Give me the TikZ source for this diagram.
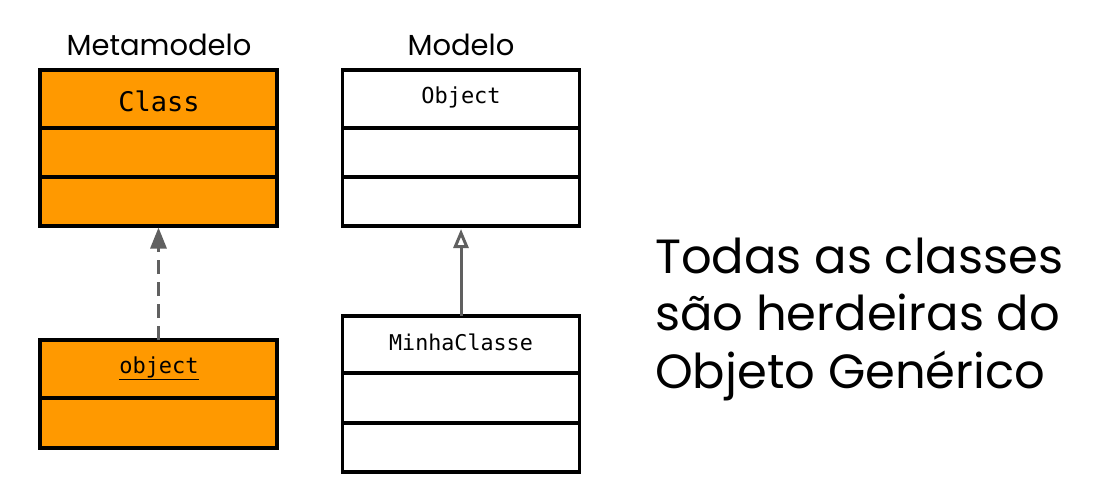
\documentclass[tikz,border=0pt]{standalone}
\usepackage{fontspec}
\setmainfont{Poppins}
\newfontfamily\monof{DejaVu Sans Mono}
\usetikzlibrary{arrows.meta,calc}
\definecolor{umlorange}{HTML}{FF9900}
\definecolor{arrowgray}{HTML}{606060}
\tikzset{
  umlbox/.style={rectangle, draw=black, line width=3.2pt, minimum width=237pt, inner sep=0pt, outer sep=0pt},
  metafill/.style={fill=umlorange},
  modelfill/.style={fill=white},
  divider/.style={draw=black, line width=3.2pt},
  titletext/.style={font=\fontsize{29}{34}\selectfont, inner sep=0pt},
  monotext/.style={font=\monof, inner sep=0pt},
  depline/.style={draw=arrowgray, line width=3pt, dash pattern=on 14pt off 8pt, -{Triangle[length=21pt,width=16pt]}},
  inhline/.style={draw=arrowgray, line width=3pt, -{Triangle[open,length=19pt,width=15pt]}},
  bigtext/.style={font=\fontsize{48}{57.5}\selectfont, align=left, inner sep=0pt}
}
\begin{document}
\begin{tikzpicture}[x=1pt,y=-1pt]
\useasboundingbox (0,0) rectangle (1100,493);
% titles
\node[titletext] (metatitle) at (159,45) {Metamodelo};
\node[titletext] (modeltitle) at (461,45) {Modelo};
% Class box
\node[umlbox, metafill, minimum height=156pt] (class) at (158.5,148) {};
\draw[divider] ($(class.north west)+(0,58)$) -- ($(class.north east)+(0,58)$);
\draw[divider] ($(class.north west)+(0,107)$) -- ($(class.north east)+(0,107)$);
\node[monotext, font=\monof\fontsize{27}{31}\selectfont] (classlbl) at (159,101) {Class};
% Object box
\node[umlbox, modelfill, minimum height=156pt] (objectcls) at (461,148) {};
\draw[divider] ($(objectcls.north west)+(0,58)$) -- ($(objectcls.north east)+(0,58)$);
\draw[divider] ($(objectcls.north west)+(0,107)$) -- ($(objectcls.north east)+(0,107)$);
\node[monotext, font=\monof\fontsize{22}{26}\selectfont] (objectlbl) at (461,97) {Object};
% object instance box
\node[umlbox, metafill, minimum height=108pt] (inst) at (158.5,394) {};
\draw[divider] ($(inst.north west)+(0,58)$) -- ($(inst.north east)+(0,58)$);
\node[monotext, font=\monof\fontsize{22}{26}\selectfont] (instlbl) at (159,368) {\underline{object}};
% MinhaClasse box
\node[umlbox, modelfill, minimum height=156pt] (minha) at (461,394) {};
\draw[divider] ($(minha.north west)+(0,57)$) -- ($(minha.north east)+(0,57)$);
\draw[divider] ($(minha.north west)+(0,107)$) -- ($(minha.north east)+(0,107)$);
\node[monotext, font=\monof\fontsize{21.7}{26}\selectfont] (minhalbl) at (461,342) {MinhaClasse};
% connectors
\draw[depline] (inst.north) -- ([yshift=-1.5pt]class.south);
\draw[inhline] (minha.north) -- ([yshift=-3pt]objectcls.south);
% side text
\node[bigtext, anchor=west] (note) at (655,319) {Todas as classes\\são herdeiras do\\Objeto Genérico};
\end{tikzpicture}
\end{document}
